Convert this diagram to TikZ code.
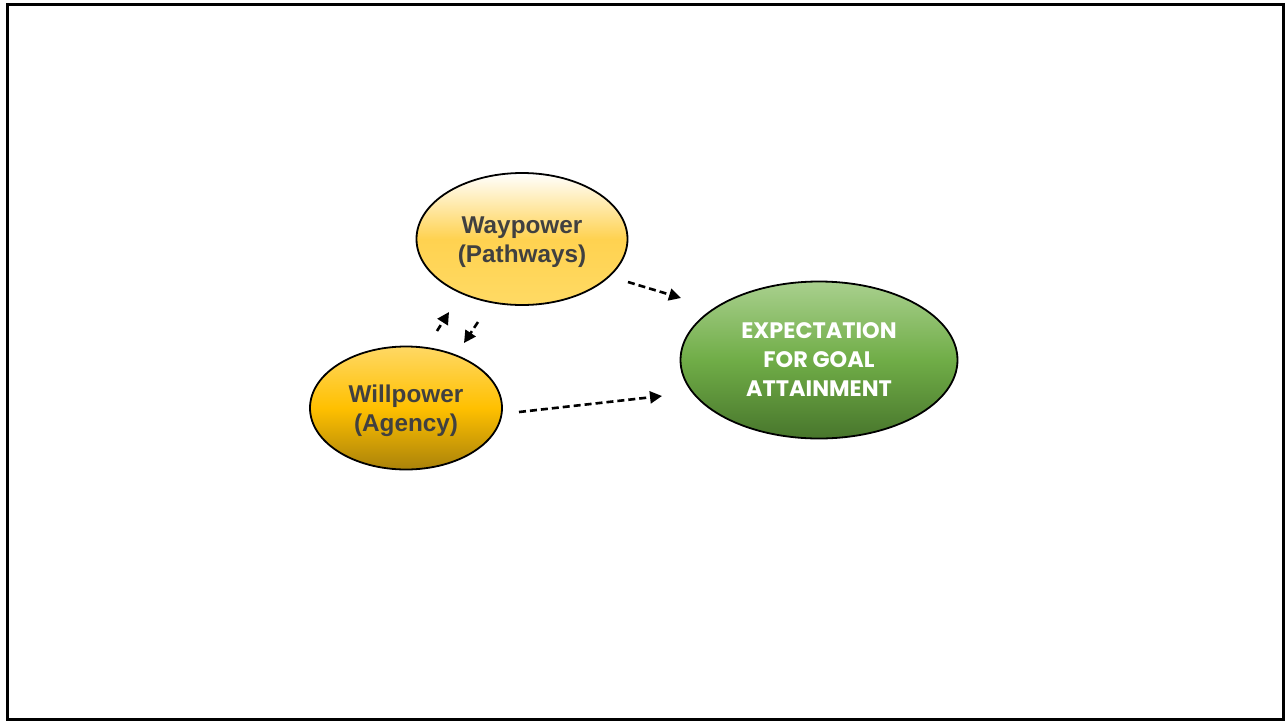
\documentclass[tikz,border=0pt]{standalone}
\usepackage{fontspec}
\setmainfont{Liberation Sans}
\newfontfamily\geofont{Poppins}
\usetikzlibrary{shapes.geometric,arrows.meta}
\definecolor{textgray}{HTML}{404040}
\tikzset{
  bubble/.style={ellipse, draw=black, line width=1.8pt, inner sep=0pt, align=center},
  hopeword/.style={font=\fontsize{24.3}{29}\selectfont\bfseries, text=textgray,
    align=center, yshift=-3pt},
  dasharrow/.style={draw=black, line width=2.6pt, dash pattern=on 7pt off 4pt,
    -{Triangle[length=12pt,width=12pt]}}
}
\begin{document}
\begin{tikzpicture}[x=1pt,y=-1pt]
\useasboundingbox (0,0) rectangle (1286,721);
% outer frame
\draw[line width=3pt] (7.5,4) rectangle (1283,719);

% the three constructs
\node[bubble, minimum width=211pt, minimum height=132pt,
      top color=white, bottom color={rgb,255:red,255;green,218;blue,100},
      middle color={rgb,255:red,255;green,210;blue,80},
      label={[hopeword]center:Waypower\\(Pathways)}]
  (way) at (522,239) {};
\node[bubble, minimum width=192pt, minimum height=123pt,
      top color={rgb,255:red,255;green,216;blue,100}, bottom color={rgb,255:red,170;green,130;blue,10},
      middle color={rgb,255:red,255;green,192;blue,0},
      label={[hopeword]center:Willpower\\(Agency)}]
  (will) at (406,408) {};
\node[bubble, minimum width=277pt, minimum height=157pt, text=white,
      font=\geofont\fontsize{22.4}{29}\selectfont\bfseries,
      top color={rgb,255:red,169;green,208;blue,142}, bottom color={rgb,255:red,72;green,118;blue,44},
      middle color={rgb,255:red,112;green,173;blue,71}]
  (exp) at (819,360) {EXPECTATION\\FOR GOAL\\ATTAINMENT};

% connector end points
\coordinate (wayout) at (628,282);
\coordinate (expinA) at (681,298);
\coordinate (willout) at (519,412);
\coordinate (expinB) at (662,396);
\coordinate (willup) at (437,331);
\coordinate (wayin) at (449,312);
\coordinate (waydown) at (478,322);
\coordinate (willin) at (464,343);

\draw[dasharrow] (wayout) -- (expinA);
\draw[dasharrow] (willout) -- (expinB);
\draw[dasharrow] (willup) -- (wayin);
\draw[dasharrow] (waydown) -- (willin);
\end{tikzpicture}
\end{document}
